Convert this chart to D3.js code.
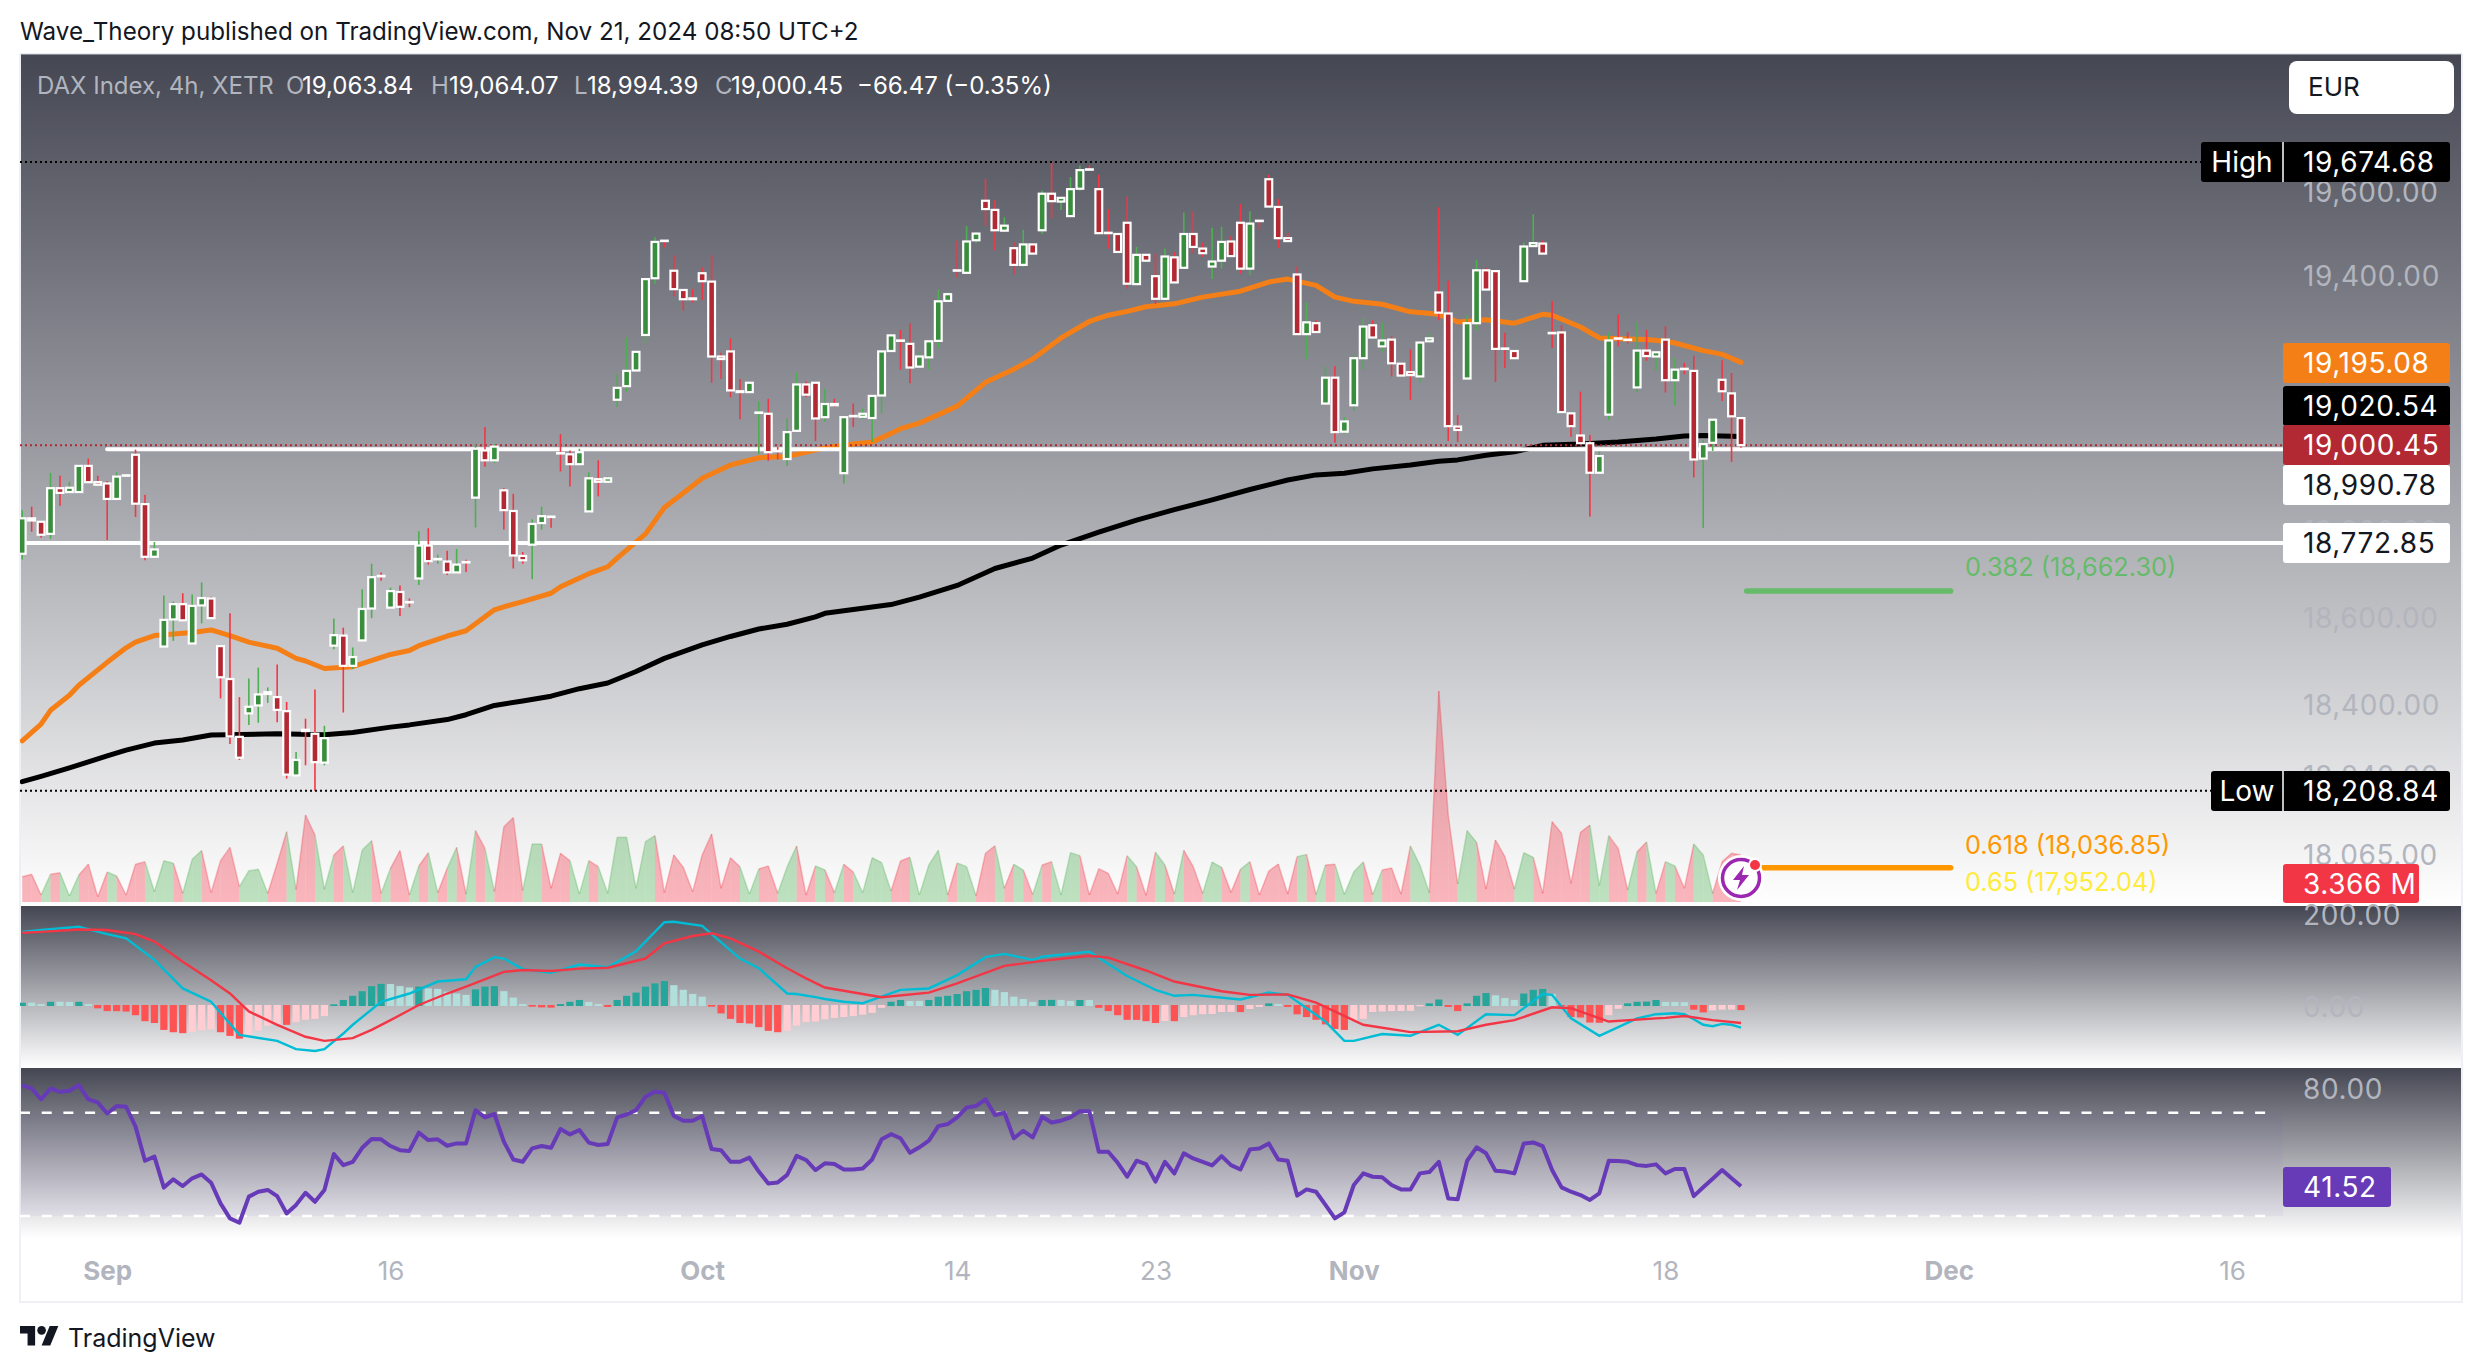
<!DOCTYPE html>
<html>
<head>
<meta charset="utf-8">
<script src="https://cdn.jsdelivr.net/npm/d3@7"></script>
<style>
  html, body { margin: 0; padding: 0; background: #fff; }
  svg { display: block; }
  text { font-family: Inter, "Noto Sans", sans-serif; }
</style>
</head>
<body>
<svg id="chart" width="2482" height="1372"></svg>
<script>
// values, one entry per 4h bar
const opens = [18748,18830,18822,18794,18900,18891,18891,18952,18914,18911,18875,18930,18978,18863,18741,18535,18597,18632,18542,18629,18645,18536,18461,18330,18383,18401,18427,18420,18388,18243,18346,18337,18272,18537,18560,18491,18549,18622,18697,18624,18660,18637,18691,18767,18735,18730,18705,18729,18878,18988,18965,18895,18847,18743,18769,18819,18834,18982,18979,18956,18846,18921,18915,19107,19139,19176,19260,19395,19485,19413,19367,19347,19407,19387,19209,19221,19127,19125,19076,19074,18987,18968,19034,19143,19147,19066,19097,18935,19069,19067,19064,19117,19222,19247,19239,19185,19207,19246,19341,19414,19408,19486,19581,19559,19509,19467,19427,19476,19510,19598,19579,19544,19610,19657,19609,19504,19501,19528,19381,19451,19400,19346,19445,19420,19501,19466,19423,19437,19483,19528,19418,19533,19633,19566,19491,19404,19262,19288,19098,19159,19032,19094,19205,19283,19233,19249,19192,19172,19162,19245,19361,19311,19044,19157,19288,19414,19412,19228,19222,19388,19472,19478,19265,19266,19075,19023,19005,18936,19072,19252,19249,19136,19223,19209,19249,19153,19180,19175,18969,19006,19154,19122,19063.84];
const highs = [18849,18857,18824,18936,18929,18915,18955,18969,18929,18917,18937,18930,18990,18885,18775,18652,18638,18657,18654,18682,18649,18536,18611,18420,18462,18487,18442,18494,18409,18296,18371,18437,18355,18599,18578,18533,18666,18725,18705,18670,18675,18645,18800,18807,18746,18755,18759,18734,19004,19043,19003,18900,18887,18752,18828,18857,18835,19026,18988,18992,18937,18965,18927,19169,19254,19222,19393,19493,19485,19450,19367,19369,19421,19450,19218,19252,19156,19147,19103,19109,18996,19063,19171,19150,19147,19132,19109,19066,19098,19086,19116,19221,19259,19272,19287,19219,19245,19368,19362,19485,19520,19505,19634,19582,19541,19481,19511,19479,19606,19675,19588,19638,19666,19667,19644,19561,19501,19591,19470,19451,19454,19466,19458,19553,19556,19480,19516,19518,19496,19573,19556,19533,19644,19585,19504,19423,19337,19295,19184,19186,19066,19213,19299,19295,19289,19257,19194,19226,19242,19264,19565,19389,19071,19307,19439,19420,19412,19265,19222,19481,19549,19485,19341,19284,19075,19126,19024,18985,19265,19309,19267,19291,19272,19219,19281,19206,19194,19211,19012,19060,19200,19170,19064.07];
const lows = [18735,18799,18785,18782,18859,18891,18888,18914,18907,18780,18875,18929,18833,18733,18741,18535,18548,18595,18542,18588,18600,18417,18314,18278,18357,18362,18407,18363,18236,18243,18266,18209,18266,18529,18385,18484,18549,18600,18686,18624,18605,18625,18676,18723,18725,18699,18705,18706,18809,18950,18959,18804,18714,18725,18689,18804,18808,18939,18904,18956,18843,18881,18915,19090,19125,19175,19241,19381,19469,19352,19318,19337,19343,19147,19156,19113,19061,19125,18980,18964,18967,18952,19034,19113,19010,19055,19090,18911,19043,19062,19008,19075,19222,19178,19146,19184,19178,19229,19341,19396,19408,19480,19520,19462,19509,19404,19422,19454,19501,19539,19559,19544,19605,19656,19503,19466,19458,19370,19381,19437,19334,19346,19385,19420,19454,19446,19393,19418,19448,19406,19402,19512,19567,19468,19484,19259,19203,19264,19098,19006,19028,19082,19178,19254,19219,19162,19164,19106,19148,19245,19295,19010,19008,19157,19271,19368,19149,19182,19205,19388,19472,19454,19229,19078,19020,19005,18834,18936,19060,19233,19240,19124,19199,19175,19124,19094,19167,18925,18808,18987,19104,18961,18994.39];
const closes = [18830,18825,18792,18900,18889,18901,18952,18914,18908,18875,18927,18929,18864,18741,18758,18596,18632,18595,18628,18646,18600,18465,18331,18283,18398,18426,18431,18391,18245,18278,18343,18273,18327,18561,18491,18511,18621,18694,18696,18662,18626,18636,18767,18731,18736,18705,18723,18728,18992,18965,18997,18849,18744,18733,18817,18835,18833,18981,18956,18984,18923,18915,18923,19135,19175,19220,19393,19482,19484,19369,19345,19345,19388,19209,19203,19129,19125,19147,19077,18984,18986,19031,19143,19119,19063,19097,19094,19066,19068,19074,19116,19221,19259,19246,19183,19209,19245,19340,19357,19413,19483,19502,19561,19510,19521,19427,19476,19454,19598,19580,19588,19609,19655,19656,19503,19503,19458,19382,19451,19437,19346,19447,19385,19501,19470,19455,19435,19482,19448,19418,19526,19532,19567,19491,19484,19262,19290,19267,19159,19031,19056,19205,19280,19254,19247,19193,19164,19165,19242,19252,19313,19045,19036,19288,19414,19368,19227,19227,19205,19471,19479,19454,19264,19078,19045,19005,18936,18975,19247,19251,19248,19223,19210,19219,19153,19178,19179,18967,19003,19060,19127,19068,19000.45];

// moving averages, read at the bar indexes listed beside them
const ma50Idx = [0,2,3,5,6,9,11,12,14,18,20,22,24,27,29,30,32,35,39,41,42,45,47,50,51,53,56,57,60,62,63,66,68,70,72,75,78,81,83,85,87,90,92,93,95,99,102,105,107,110,113,115,117,119,122,125,129,132,134,137,139,141,144,147,150,152,155,158,161,162,165,167,169,172,174,175,178,180,181,182];
const ma50Val = [18321,18359,18390,18424,18447,18499,18532,18545,18560,18567,18573,18560,18545,18531,18508,18502,18485,18489,18517,18526,18537,18559,18571,18619,18626,18638,18657,18672,18702,18718,18738,18794,18855,18889,18923,18954,18971,18974,18984,18994,19001,19008,19028,19039,19052,19092,19148,19179,19203,19253,19292,19307,19316,19327,19334,19350,19364,19386,19393,19378,19350,19340,19333,19315,19309,19291,19296,19288,19309,19307,19279,19253,19251,19249,19245,19241,19223,19214,19205,19195.08];
const ma200Idx = [0,2,5,9,11,14,17,20,27,32,35,39,41,45,47,50,53,56,59,62,65,68,72,75,78,81,84,85,92,95,99,103,107,110,114,118,122,126,130,134,137,140,143,147,150,152,155,158,161,165,169,173,176,178,182];
const ma200Val = [18229,18241,18260,18287,18300,18316,18323,18334,18337,18335,18340,18352,18357,18369,18380,18401,18411,18422,18439,18452,18478,18508,18539,18558,18575,18586,18603,18611,18631,18648,18675,18714,18738,18768,18798,18826,18850,18873,18897,18919,18931,18935,18945,18954,18963,18966,18977,18985,19000,19003,19008,19015,19022,19023,19020.54];

// volume in millions
const volumes = [1.81,1.98,0.50,1.98,2.10,0.43,1.93,2.70,0.38,2.15,1.86,0.50,2.70,2.89,0.74,2.96,2.77,0.62,3.06,3.68,0.67,2.96,3.91,1.10,2.24,2.34,0.62,2.77,5.04,0.91,6.23,4.80,0.91,3.37,4.01,0.67,3.72,4.39,0.62,2.41,3.68,0.50,2.58,3.53,0.67,2.41,3.91,0.57,5.11,3.84,0.74,5.39,6.04,0.81,4.15,4.15,0.98,3.49,2.96,0.57,2.96,2.53,0.62,4.63,4.63,0.98,4.32,4.75,0.67,3.37,2.48,0.74,3.37,4.87,0.98,3.17,2.53,0.57,2.36,2.58,0.62,2.53,4.01,0.50,2.58,2.29,0.67,2.70,2.15,0.67,3.17,2.82,0.79,2.94,3.20,0.50,2.65,3.70,0.50,2.79,2.53,0.45,3.49,4.03,0.98,2.70,2.29,0.53,2.65,2.89,0.50,3.53,3.32,0.50,2.39,2.05,0.57,3.32,2.53,0.48,3.56,2.65,0.57,3.70,2.53,0.62,2.86,2.48,0.69,2.34,2.89,0.50,2.22,2.72,0.57,3.25,3.41,0.53,2.65,2.70,0.53,2.17,2.86,0.53,2.29,2.43,0.57,4.01,2.65,0.67,15.11,6.23,1.29,5.11,4.27,0.93,4.44,3.25,0.93,3.53,3.20,0.62,5.75,4.92,1.34,4.99,5.51,1.17,4.75,3.84,0.86,3.60,4.30,0.62,2.89,2.58,0.98,4.15,3.37,0.62,2.89,3.49,3.366];

// MACD pane
const macdIdx = [0,2,6,9,11,14,17,20,23,27,29,31,32,34,35,38,41,44,47,48,50,51,53,56,59,62,65,68,69,72,76,78,81,82,84,85,87,89,93,96,99,102,104,107,108,113,117,119,120,122,124,129,132,134,138,140,141,144,147,150,152,155,158,161,162,164,167,171,173,175,176,177,178,179,180,181,182];
const macdVal = [159,163,170,154,145,98,36,7,-65,-78,-96,-100,-96,-62,-43,7,25,51,56,83,104,101,78,70,88,82,117,180,181,172,101,80,25,24,17,13,7,4,33,36,65,104,111,98,105,116,63,43,33,20,22,12,27,22,-36,-78,-78,-63,-67,-43,-65,-20,-22,24,22,-29,-67,-29,-20,-18,-20,-31,-43,-46,-41,-43,-49];
const signalIdx = [0,2,6,9,12,14,17,20,22,24,27,30,32,35,37,39,42,45,47,51,53,56,59,62,66,68,71,73,75,78,81,83,85,91,96,99,104,108,113,115,119,122,127,130,134,137,142,147,152,155,158,162,164,168,173,174,176,179,182];
const signalVal = [157,159,164,163,154,138,94,54,25,-14,-43,-69,-78,-72,-54,-33,0,25,40,72,76,74,79,81,101,134,150,156,145,116,80,58,38,17,27,47,85,96,107,103,75,51,30,22,23,5,-43,-59,-57,-43,-33,-5,-7,-36,-29,-28,-24,-33,-39];
const histogram = [5,5,2,7,7,6.5,7,2,-5,-11,-11.2,-12,-20,-33,-37,-52,-57,-59,-57,-53,-51,-57,-65,-71,-63,-54,-43,-40,-41,-35,-30,-28,-22,1.4,11,20,30,41,46,45.5,41,38,40,36,35,29,25,22,34,40,41,30,16,2,-1.5,-3,-3.6,2,7,11,6.5,2,-2,11,20,27,40,47,52,43,33,24,18,-1.5,-16,-28,-37,-38,-46,-54,-57,-54,-43,-35,-34,-29,-26,-24,-22,-19,-15,-4,7,11,8.7,8.6,11,18,20,24,30,33,37,33,28,18,13,6.5,11,11.2,11,8.7,11,10.8,-4,-11,-20,-30,-30.2,-33,-37,-32.6,-33,-24,-20,-18,-17.4,-13,-12.8,-13.2,-6.5,-2,3.6,2,-2,-18,-24,-30,-40,-50,-52,-32,-28,-13,-12,-11,-10.8,-10.6,-0.7,3.6,12,-2,-11,3.6,20,26,21,15,11,25,33,35,24,-1,-24,-25,-36,-36.5,-20,-6,3.6,7,7.5,11,6.5,6.4,6,-8,-14,-9.5,-8,-7.8,-9];

// RSI pane
const rsi = [80.7,79.4,75.2,79.4,78.1,78.5,80.7,75.2,74,69.7,72.6,72.3,64.6,51.4,53,41,44.2,41.6,44.6,46.1,42.9,34.9,29.1,27.4,37.5,39.4,40.1,37.7,31,34.3,39,35.5,40.1,54,49.7,51,56.4,59.8,59.7,57.1,55.5,55.2,62.3,59.4,59.7,57.2,58.1,58.1,71,68.2,69.5,58.8,51.9,51,56.2,57.1,56.4,63.7,61.6,63.3,58.4,57.5,57.9,68.2,69.3,71,76.2,78.2,77.7,68.7,66.9,66.9,68.7,55.9,55.5,51,51,52.6,47.2,42.6,43,45.9,53.3,51.7,47.8,50.4,50.1,48,48,48.4,51.9,59.7,61.7,60.1,54.5,56.6,59.2,64.8,65.6,68.2,72,72.6,75.2,69.1,70,60.1,63,60.4,68.4,66.2,66.9,68.2,70.6,70.6,54.9,54.9,50.6,45.2,51.4,50.1,43.3,51,46.5,54.3,52.3,51,49.6,53.2,49.7,48,55.8,56.1,58.1,51.9,51.4,37.9,40.3,39.4,34.3,29.1,31.4,42,46.5,45.2,45,42,40.3,40.3,46.5,47,51,36.8,36.5,51.4,56.6,54.3,47.5,47.2,46.5,58.1,58.5,57.1,47.8,41.1,39.4,38.1,36.2,38.8,51.4,51.3,51,49.7,49.4,50,46.5,48.2,48.2,37.7,41.1,44.4,47.8,44.6,41.52];

// axis ticks
const priceTicks = [19600,19400,18800,18600,18400,18240,18065];
const macdTicks = [200,0];
const rsiTicks = [80];
const dateTickIdx = [9,39,72,99,120,141,174,204,234];
const dateTickLabels = ['Sep','16','Oct','14','23','Nov','18','Dec','16'];
const monthLabels = ['Sep','Oct','Nov','Dec'];

// levels
const highLevel = 19674.68, lowLevel = 18208.84, lastClose = 19000.45;
const support = [18990.78, 18772.85];
const fib382 = 18662.30, fib618 = 18036.85;
const fibFromIdx = 182.6, fibToIdx = 204.2;

const svg = d3.select('#chart');
const paneLeft = 20, paneRight = 2462, scaleLeft = 2283;
const panes = { main: [54, 906], macd: [906, 1068], rsi: [1068, 1238] };

const x = d3.scaleLinear().domain([0, 182]).range([22.2, 1741]);
const y = d3.scaleLog().domain([lowLevel, highLevel]).range([790.7, 162]);
const yVol = d3.scaleLinear().domain([0, 15.11]).range([902, 691]);
const yMacd = d3.scaleLinear().domain([0, 200]).range([1005, 913]);
const yRsi = d3.scaleLinear().domain([30, 70]).range([1216, 1112.7]);

// pane backgrounds
const defs = svg.append('defs');
Object.keys(panes).forEach(function(k) {
  const g = defs.append('linearGradient').attr('id', 'bg-' + k).attr('x1', 0).attr('y1', 0).attr('x2', 0).attr('y2', 1);
  g.append('stop').attr('offset', 0).attr('stop-color', '#444652');
  g.append('stop').attr('offset', 1).attr('stop-color', '#ffffff');
  svg.append('rect').attr('x', paneLeft).attr('y', panes[k][0]).attr('width', paneRight - paneLeft)
    .attr('height', panes[k][1] - panes[k][0]).attr('fill', 'url(#bg-' + k + ')');
});
defs.append('clipPath').attr('id', 'plot').append('rect').attr('x', paneLeft).attr('y', 54)
  .attr('width', scaleLeft - paneLeft).attr('height', 1250);

// frame
svg.append('path').attr('d', `M${paneLeft},54V1302H${paneRight}V54`).attr('fill', 'none').attr('stroke', '#eef0f5').attr('stroke-width', 2);
svg.append('path').attr('d', `M${paneLeft},54H${paneRight}`).attr('stroke', '#d1d4dc').attr('stroke-width', 1);

// header
svg.append('text').attr('x', 20).attr('y', 40).attr('font-size', 24.2).attr('fill', '#131722')
  .text('Wave_Theory published on TradingView.com, Nov 21, 2024 08:50 UTC+2');

const legendParts = [['DAX Index, 4h, XETR', 37, '#b2b5be'], ['O', 286, '#b2b5be'], ['19,063.84', 302, '#fff'], ['H', 431, '#b2b5be'], ['19,064.07', 449, '#fff'],
  ['L', 574, '#b2b5be'], ['18,994.39', 587, '#fff'], ['C', 715, '#b2b5be'], ['19,000.45', 731, '#fff'], ['\u221266.47 (\u22120.35%)', 857, '#fff']];
svg.selectAll('.legend').data(legendParts).enter().append('text').attr('class', 'legend')
  .attr('x', d => d[1]).attr('y', 94).attr('font-size', 24).attr('fill', d => d[2]).text(d => d[0]);

// price axis ticks sit under the tags
const textLeft = 2303;
function rightAxis(scale, ticks, fmt, shift) {
  const g = svg.append('g').attr('transform', `translate(${textLeft},${shift})`)
    .call(d3.axisRight(scale).tickValues(ticks).tickSize(0).tickPadding(0).tickFormat(fmt));
  g.select('.domain').remove();
  g.selectAll('text').attr('fill', '#b2b5be').style('font-size', '28px').style('letter-spacing', '0.6px').style('font-family', 'Inter');
}
const fmtPrice = d3.format(',.2f');
rightAxis(y, priceTicks, fmtPrice, 0);
rightAxis(yMacd, macdTicks, d3.format('.2f'), 3);
rightAxis(yRsi, rsiTicks, d3.format('.2f'), 3);

const plot = svg.append('g').attr('clip-path', 'url(#plot)');

// volume, one segment per bar so the colour can change
const isUp = i => closes[i] >= opens[i];
const volArea = d3.area().x(d => x(d)).y0(yVol(0)).y1(d => yVol(volumes[d]));
const volLine = d3.line().x(d => x(d)).y(d => yVol(volumes[d]));
for (let i = 1; i < volumes.length; i++) {
  const seg = [i - 1, i];
  const col = isUp(i) ? '#4caf50' : '#f23645';
  plot.append('path').attr('d', volArea(seg)).attr('fill', col).attr('fill-opacity', 0.36);
  plot.append('path').attr('d', volLine(seg)).attr('fill', 'none').attr('stroke', col).attr('stroke-opacity', 0.3).attr('stroke-width', 1.5);
}

// moving averages
const indexedLine = (sx, sy) => d3.line().x(d => sx(d[0])).y(d => sy(d[1]));
const ma50 = d3.zip(ma50Idx, ma50Val), ma200 = d3.zip(ma200Idx, ma200Val);
plot.append('path').attr('d', indexedLine(x, y)(ma50)).attr('fill', 'none').attr('stroke', '#f57f17').attr('stroke-width', 5).attr('stroke-linejoin', 'round').attr('stroke-linecap', 'round');
plot.append('path').attr('d', indexedLine(x, y)(ma200)).attr('fill', 'none').attr('stroke', '#000').attr('stroke-width', 5).attr('stroke-linejoin', 'round').attr('stroke-linecap', 'round');

// horizontal levels
plot.append('line').attr('x1', x(9)).attr('x2', scaleLeft).attr('y1', y(support[0])).attr('y2', y(support[0]))
  .attr('stroke', '#fff').attr('stroke-width', 4).attr('stroke-linecap', 'round');
plot.append('line').attr('x1', paneLeft).attr('x2', scaleLeft).attr('y1', y(support[1])).attr('y2', y(support[1]))
  .attr('stroke', '#fff').attr('stroke-width', 4);
[[highLevel, 2201], [lowLevel, 2211]].forEach(function(l) {
  svg.append('line').attr('x1', paneLeft).attr('x2', l[1]).attr('y1', y(l[0])).attr('y2', y(l[0]))
    .attr('stroke', '#000').attr('stroke-width', 2).attr('stroke-dasharray', '2 3');
});
plot.append('line').attr('x1', paneLeft).attr('x2', scaleLeft).attr('y1', y(lastClose)).attr('y2', y(lastClose))
  .attr('stroke', '#b22833').attr('stroke-width', 2).attr('stroke-dasharray', '2 3');

// fibonacci levels
[[fib382, '#66bb6a'], [fib618, '#ff9800']].forEach(function(l) {
  svg.append('line').attr('x1', x(fibFromIdx)).attr('x2', x(fibToIdx)).attr('y1', y(l[0])).attr('y2', y(l[0]))
    .attr('stroke', l[1]).attr('stroke-width', 5.5).attr('stroke-linecap', 'round');
});
[['0.382 (18,662.30)', 567, '#66bb6a'], ['0.618 (18,036.85)', 845, '#ff9800'], ['0.65 (17,952.04)', 882, '#ffeb3b']].forEach(function(l) {
  svg.append('text').attr('x', 1965).attr('y', l[1]).attr('dy', '.35em').attr('font-size', 25.3).attr('fill', l[2]).text(l[0]);
});

// candles
const bars = d3.range(opens.length);
const candles = plot.selectAll('.bar').data(bars).enter().append('g').attr('class', 'bar');
candles.append('line').attr('x1', d => x(d)).attr('x2', d => x(d)).attr('y1', d => y(highs[d])).attr('y2', d => y(lows[d]))
  .attr('stroke', d => isUp(d) ? '#4caf50' : '#f23645').attr('stroke-width', 1.6);
candles.append('rect').attr('x', d => x(d) - 3.4).attr('width', 6.8)
  .attr('y', d => y(Math.max(opens[d], closes[d])))
  .attr('height', d => Math.abs(y(opens[d]) - y(closes[d])))
  .attr('fill', d => isUp(d) ? '#388e3c' : '#b22833').attr('stroke', '#fff').attr('stroke-width', 2.2);

// MACD
const histColor = function(i) {
  const prev = i > 0 ? histogram[i - 1] : histogram[i];
  if (histogram[i] >= 0) return prev < histogram[i] || i === 0 ? '#26a69a' : '#b2dfdb';
  return prev < histogram[i] ? '#ffcdd2' : '#ff5252';
};
plot.selectAll('.hist').data(histogram).enter().append('rect').attr('class', 'hist')
  .attr('x', (d, i) => x(i) - 3.6).attr('width', 7.2)
  .attr('y', d => Math.min(yMacd(0), yMacd(d))).attr('height', d => Math.abs(yMacd(d) - yMacd(0)) + 1)
  .attr('fill', (d, i) => histColor(i));
plot.append('path').attr('d', indexedLine(x, yMacd)(d3.zip(macdIdx, macdVal))).attr('fill', 'none').attr('stroke', '#00bcd4').attr('stroke-width', 2.4);
plot.append('path').attr('d', indexedLine(x, yMacd)(d3.zip(signalIdx, signalVal))).attr('fill', 'none').attr('stroke', '#f23645').attr('stroke-width', 2.4);

// RSI
plot.append('rect').attr('x', paneLeft).attr('width', scaleLeft - paneLeft).attr('y', yRsi(70)).attr('height', yRsi(30) - yRsi(70))
  .attr('fill', '#7e57c2').attr('fill-opacity', 0.06);
[70, 30].forEach(function(v) {
  plot.append('line').attr('x1', paneLeft).attr('x2', scaleLeft - 8).attr('y1', yRsi(v)).attr('y2', yRsi(v))
    .attr('stroke', '#fff').attr('stroke-width', 2.4).attr('stroke-dasharray', '10 11.7');
});
plot.append('path').attr('d', d3.line().x((d, i) => x(i)).y(d => yRsi(d))(rsi)).attr('fill', 'none').attr('stroke', '#673ab7').attr('stroke-width', 4).attr('stroke-linejoin', 'round');

// date axis
const dateAxis = svg.append('g').attr('transform', 'translate(0,1262)')
  .call(d3.axisBottom(x).tickValues(dateTickIdx).tickSize(0).tickPadding(0).tickFormat((d, i) => dateTickLabels[i]));
dateAxis.select('.domain').remove();
dateAxis.selectAll('text').attr('fill', '#b2b5be').style('font-size', '26px').style('font-family', 'Inter')
  .style('font-weight', function() { return monthLabels.includes(this.textContent) ? 700 : 400; });

// value tags on the scale
const tagRight = 2450;
function tag(text, top, height, fill, color, right) {
  svg.append('rect').attr('x', scaleLeft).attr('y', top).attr('width', (right || tagRight) - scaleLeft).attr('height', height).attr('rx', 3).attr('fill', fill);
  svg.append('text').attr('x', textLeft).attr('y', top + height / 2).attr('dy', '.36em').attr('font-size', 28).attr('letter-spacing', 0.6).attr('fill', color).text(text);
}
tag('19,195.08', 343, 40, '#f57f17', '#fff');
tag('19,020.54', 386, 40, '#000', '#fff');
tag('18,990.78', 465, 40, '#fff', '#131722');
tag('19,000.45', 425, 40, '#b22833', '#fff');
tag('18,772.85', 523, 40, '#fff', '#131722');
tag('3.366 M', 864, 39, '#f23645', '#fff', 2419);
tag('41.52', 1167, 40, '#673ab7', '#fff', 2391);

function extremeTag(word, value, left, top) {
  svg.append('rect').attr('x', left).attr('y', top).attr('width', tagRight - left).attr('height', 40).attr('rx', 3).attr('fill', '#000');
  svg.append('line').attr('x1', scaleLeft).attr('x2', scaleLeft).attr('y1', top).attr('y2', top + 40).attr('stroke', '#fff').attr('stroke-width', 1.5);
  svg.append('text').attr('x', (left + scaleLeft) / 2).attr('y', top + 20).attr('dy', '.36em').attr('text-anchor', 'middle').attr('font-size', 28).attr('fill', '#fff').text(word);
  svg.append('text').attr('x', textLeft).attr('y', top + 20).attr('dy', '.36em').attr('font-size', 28).attr('letter-spacing', 0.6).attr('fill', '#fff').text(value);
}
extremeTag('High', '19,674.68', 2201, 142);
extremeTag('Low', '18,208.84', 2211, 771);

// currency button
svg.append('rect').attr('x', 2289).attr('y', 61).attr('width', 165).attr('height', 53).attr('rx', 8).attr('fill', '#fff');
svg.append('text').attr('x', 2308).attr('y', 87).attr('dy', '.36em').attr('font-size', 26).attr('fill', '#131722').text('EUR');

// alert badge on the last bar
const badge = svg.append('g').attr('transform', `translate(${x(182)},878)`);
badge.append('circle').attr('r', 23).attr('fill', '#fff');
badge.append('circle').attr('r', 18.5).attr('fill', '#fff').attr('stroke', '#9c27b0').attr('stroke-width', 3.5);
badge.append('path').attr('d', 'M3,-12L-8,2H-1L-4,12L8,-3H1Z').attr('fill', '#9c27b0');
badge.append('circle').attr('cx', 14).attr('cy', -13).attr('r', 7).attr('fill', '#fff');
badge.append('circle').attr('cx', 14).attr('cy', -13).attr('r', 5).attr('fill', '#f23645');

// logo
const logo = svg.append('g').attr('transform', 'translate(20,1321.7) scale(1.08)').attr('fill', '#131722');
logo.append('path').attr('d', 'M14 22H7V11H0V4h14v18zM28 22h-8l7.5-18h8L28 22z');
logo.append('circle').attr('cx', 20).attr('cy', 8).attr('r', 4);
svg.append('text').attr('x', 68).attr('y', 1338).attr('dy', '.36em').attr('font-size', 25).attr('fill', '#131722').text('TradingView');
</script>
</body>
</html>
